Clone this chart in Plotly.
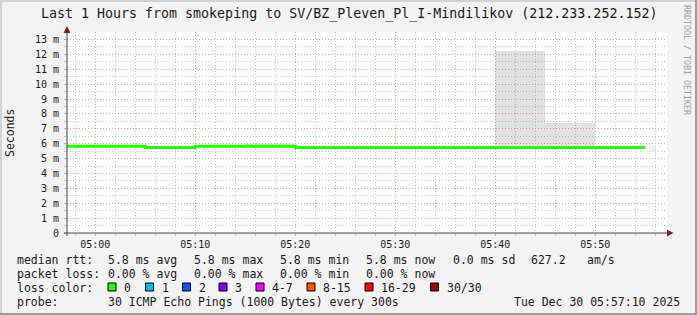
import plotly.graph_objects as go
from datetime import datetime, timedelta

# ---------------- data ----------------
interval_start = ["04:55", "05:00", "05:05", "05:10", "05:15", "05:20",
                  "05:25", "05:30", "05:35", "05:40", "05:45", "05:50"]
median_ms = [5.82, 5.82, 5.75, 5.82, 5.82, 5.75,
             5.75, 5.75, 5.75, 5.75, 5.75, 5.75]
smoke_lo = [5.78, 5.78, 5.72, 5.78, 5.78, 5.72,
            5.72, 5.72, 5.72, 5.72, 5.72, 5.72]
smoke_hi = [5.86, 5.86, 5.79, 5.86, 5.96, 5.79,
            5.79, 5.79, 5.79, 12.22, 7.41, 5.79]
y_tick_vals = list(range(0, 14))
y_tick_text = ["0"] + [f"{v} m" for v in range(1, 14)]
loss_labels = ["0", "1", "2", "3", "4-7", "8-15", "16-29", "30/30"]
loss_colors = ["#26ff00", "#00b8ff", "#0059ff", "#7e00ff",
               "#ff00ff", "#ff5500", "#ff0000", "#a10000"]
title_text = "Last 1 Hours from smokeping to SV/BZ_Pleven_Pl_I-Mindilikov (212.233.252.152)"
rtt_row = [("median rtt:", 16), ("5.8 ms avg", 107), ("5.8 ms max", 193),
           ("5.8 ms min", 279), ("5.8 ms now", 365), ("0.0 ms sd", 451.5),
           ("627.2", 530), ("am/s", 586)]
loss_row = [("packet loss:", 16), ("0.00 % avg", 107), ("0.00 % max", 193),
            ("0.00 % min", 279), ("0.00 % now", 365)]
loss_box_x = [108, 145.5, 182.5, 219, 256, 307, 365, 430.5]
probe_row = [("probe:", 16), ("30 ICMP Echo Pings (1000 Bytes) every 300s", 107),
             ("Tue Dec 30 05:57:10 2025", 513)]

day = "2025-12-30"
t_start = datetime.fromisoformat(day + " 04:57:10")
t_end = datetime.fromisoformat(day + " 05:57:10")
step = timedelta(minutes=5)

# ---------------- geometry (pixels) ----------------
W, H = 697, 315
PL, PR, PT, PB = 67, 667, 32, 233


def px(x):
    return (x - PL) / (PR - PL)


def py(y):
    return (PB - y) / (PB - PT)


MONO = "DejaVu Sans Mono"
TXT = "#1a1a1a"
MAJ = "#eb9a9a"
MIN = "#c4c4c4"

starts = [datetime.fromisoformat(f"{day} {s}:00") for s in interval_start]

fig = go.Figure()

# smoke
fig.add_trace(go.Bar(
    x=starts,
    y=[h - l for h, l in zip(smoke_hi, smoke_lo)],
    base=smoke_lo,
    offset=0,
    width=[step.total_seconds() * 1000] * len(starts),
    marker=dict(color="rgba(120,120,120,0.22)", line=dict(width=0)),
    hoverinfo="skip",
    showlegend=False,
))

# median line
fig.add_trace(go.Scatter(
    x=starts + [starts[-1] + step],
    y=median_ms + [median_ms[-1]],
    mode="lines",
    line=dict(color=loss_colors[0], width=3, shape="hv"),
    showlegend=False,
    hoverinfo="skip",
))

fig.update_layout(
    width=W, height=H,
    margin=dict(l=PL, r=W - PR, t=PT, b=H - PB, pad=0),
    paper_bgcolor="#f3f3f3",
    plot_bgcolor="#ffffff",
    showlegend=False,
    bargap=0,
    font=dict(family=MONO, color=TXT, size=10),
)

fig.update_xaxes(
    type="date",
    range=[t_start, t_end],
    tickformat="%H:%M",
    tick0=day + " 05:00:00",
    dtick=10 * 60 * 1000,
    showgrid=True,
    gridcolor=MAJ,
    griddash="1px,2px",
    gridwidth=1,
    ticks="outside",
    ticklen=2,
    tickcolor=MAJ,
    tickfont=dict(family=MONO, size=10, color=TXT),
    minor=dict(dtick=2 * 60 * 1000, tick0=day + " 05:00:00", showgrid=True,
               gridcolor=MIN, griddash="1px,2px", ticks="outside",
               ticklen=2, tickcolor=MIN),
    zeroline=False,
    showline=False,
    fixedrange=True,
)

fig.update_yaxes(
    range=[0, 13.5],
    tickmode="array",
    tickvals=y_tick_vals,
    ticktext=y_tick_text,
    showgrid=True,
    gridcolor=MAJ,
    griddash="1px,2px",
    ticks="outside",
    ticklen=2,
    tickcolor=MAJ,
    ticklabelstandoff=3,
    tickfont=dict(family=MONO, size=10, color=TXT),
    minor=dict(dtick=0.5, tick0=0, showgrid=True, gridcolor=MIN,
               griddash="1px,2px", ticks="outside", ticklen=2, tickcolor=MIN),
    zeroline=False,
    showline=False,
    fixedrange=True,
)

shapes = []
# axes lines
shapes.append(dict(type="line", xref="paper", yref="paper",
                   x0=px(64), x1=px(669), y0=py(233), y1=py(233),
                   line=dict(color="#444444", width=1)))
shapes.append(dict(type="line", xref="paper", yref="paper",
                   x0=px(67), x1=px(67), y0=py(236), y1=py(29),
                   line=dict(color="#444444", width=1)))
# arrows
shapes.append(dict(type="path", xref="paper", yref="paper",
                   path=f"M {px(63.5)} {py(33)} L {px(70.5)} {py(33)} L {px(67)} {py(26)} Z",
                   fillcolor="#8b1a1a", line=dict(width=0)))
shapes.append(dict(type="path", xref="paper", yref="paper",
                   path=f"M {px(667)} {py(229.5)} L {px(667)} {py(236.5)} L {px(673.5)} {py(233)} Z",
                   fillcolor="#8b1a1a", line=dict(width=0)))
# image frame
shapes.append(dict(type="rect", xref="paper", yref="paper",
                   x0=px(0), x1=px(2), y0=py(315), y1=py(0),
                   fillcolor="#d2d2d2", line=dict(width=0)))
shapes.append(dict(type="rect", xref="paper", yref="paper",
                   x0=px(0), x1=px(697), y0=py(2), y1=py(0),
                   fillcolor="#d2d2d2", line=dict(width=0)))
shapes.append(dict(type="rect", xref="paper", yref="paper",
                   x0=px(695), x1=px(697), y0=py(315), y1=py(0),
                   fillcolor="#9c9c9c", line=dict(width=0)))
shapes.append(dict(type="rect", xref="paper", yref="paper",
                   x0=px(0), x1=px(697), y0=py(315), y1=py(313),
                   fillcolor="#9c9c9c", line=dict(width=0)))
# loss colour boxes
for bx, col in zip(loss_box_x, loss_colors):
    shapes.append(dict(type="rect", xref="paper", yref="paper",
                       x0=px(bx), x1=px(bx + 8), y0=py(291), y1=py(283),
                       fillcolor=col, line=dict(color="#000000", width=1)))
fig.update_layout(shapes=shapes)

ann = []


def text(s, x, y, size=11.5, anchor="left", angle=0, color=TXT):
    ann.append(dict(text=s, xref="paper", yref="paper", x=px(x), y=py(y),
                    xanchor=anchor, yanchor="middle", showarrow=False,
                    textangle=angle, borderpad=0,
                    font=dict(family=MONO, size=size, color=color)))


text(title_text, 348.5, 14, size=13.3, anchor="center")
text("Seconds", 10, 133, size=11.5, anchor="center", angle=-90)
text("RRDTOOL / TOBI OETIKER", 687, 60, size=8.3, anchor="center", angle=90,
     color="#a0a0a0")

for s, x in rtt_row:
    text(s, x, 259.5)
for s, x in loss_row:
    text(s, x, 273.5)
text("loss color:", 16, 287.5)
for lab, bx in zip(loss_labels, loss_box_x):
    text(lab, bx + 15, 287.5)
for s, x in probe_row:
    text(s, x, 301.5)

fig.update_layout(annotations=ann)

fig.write_html("out.html")
